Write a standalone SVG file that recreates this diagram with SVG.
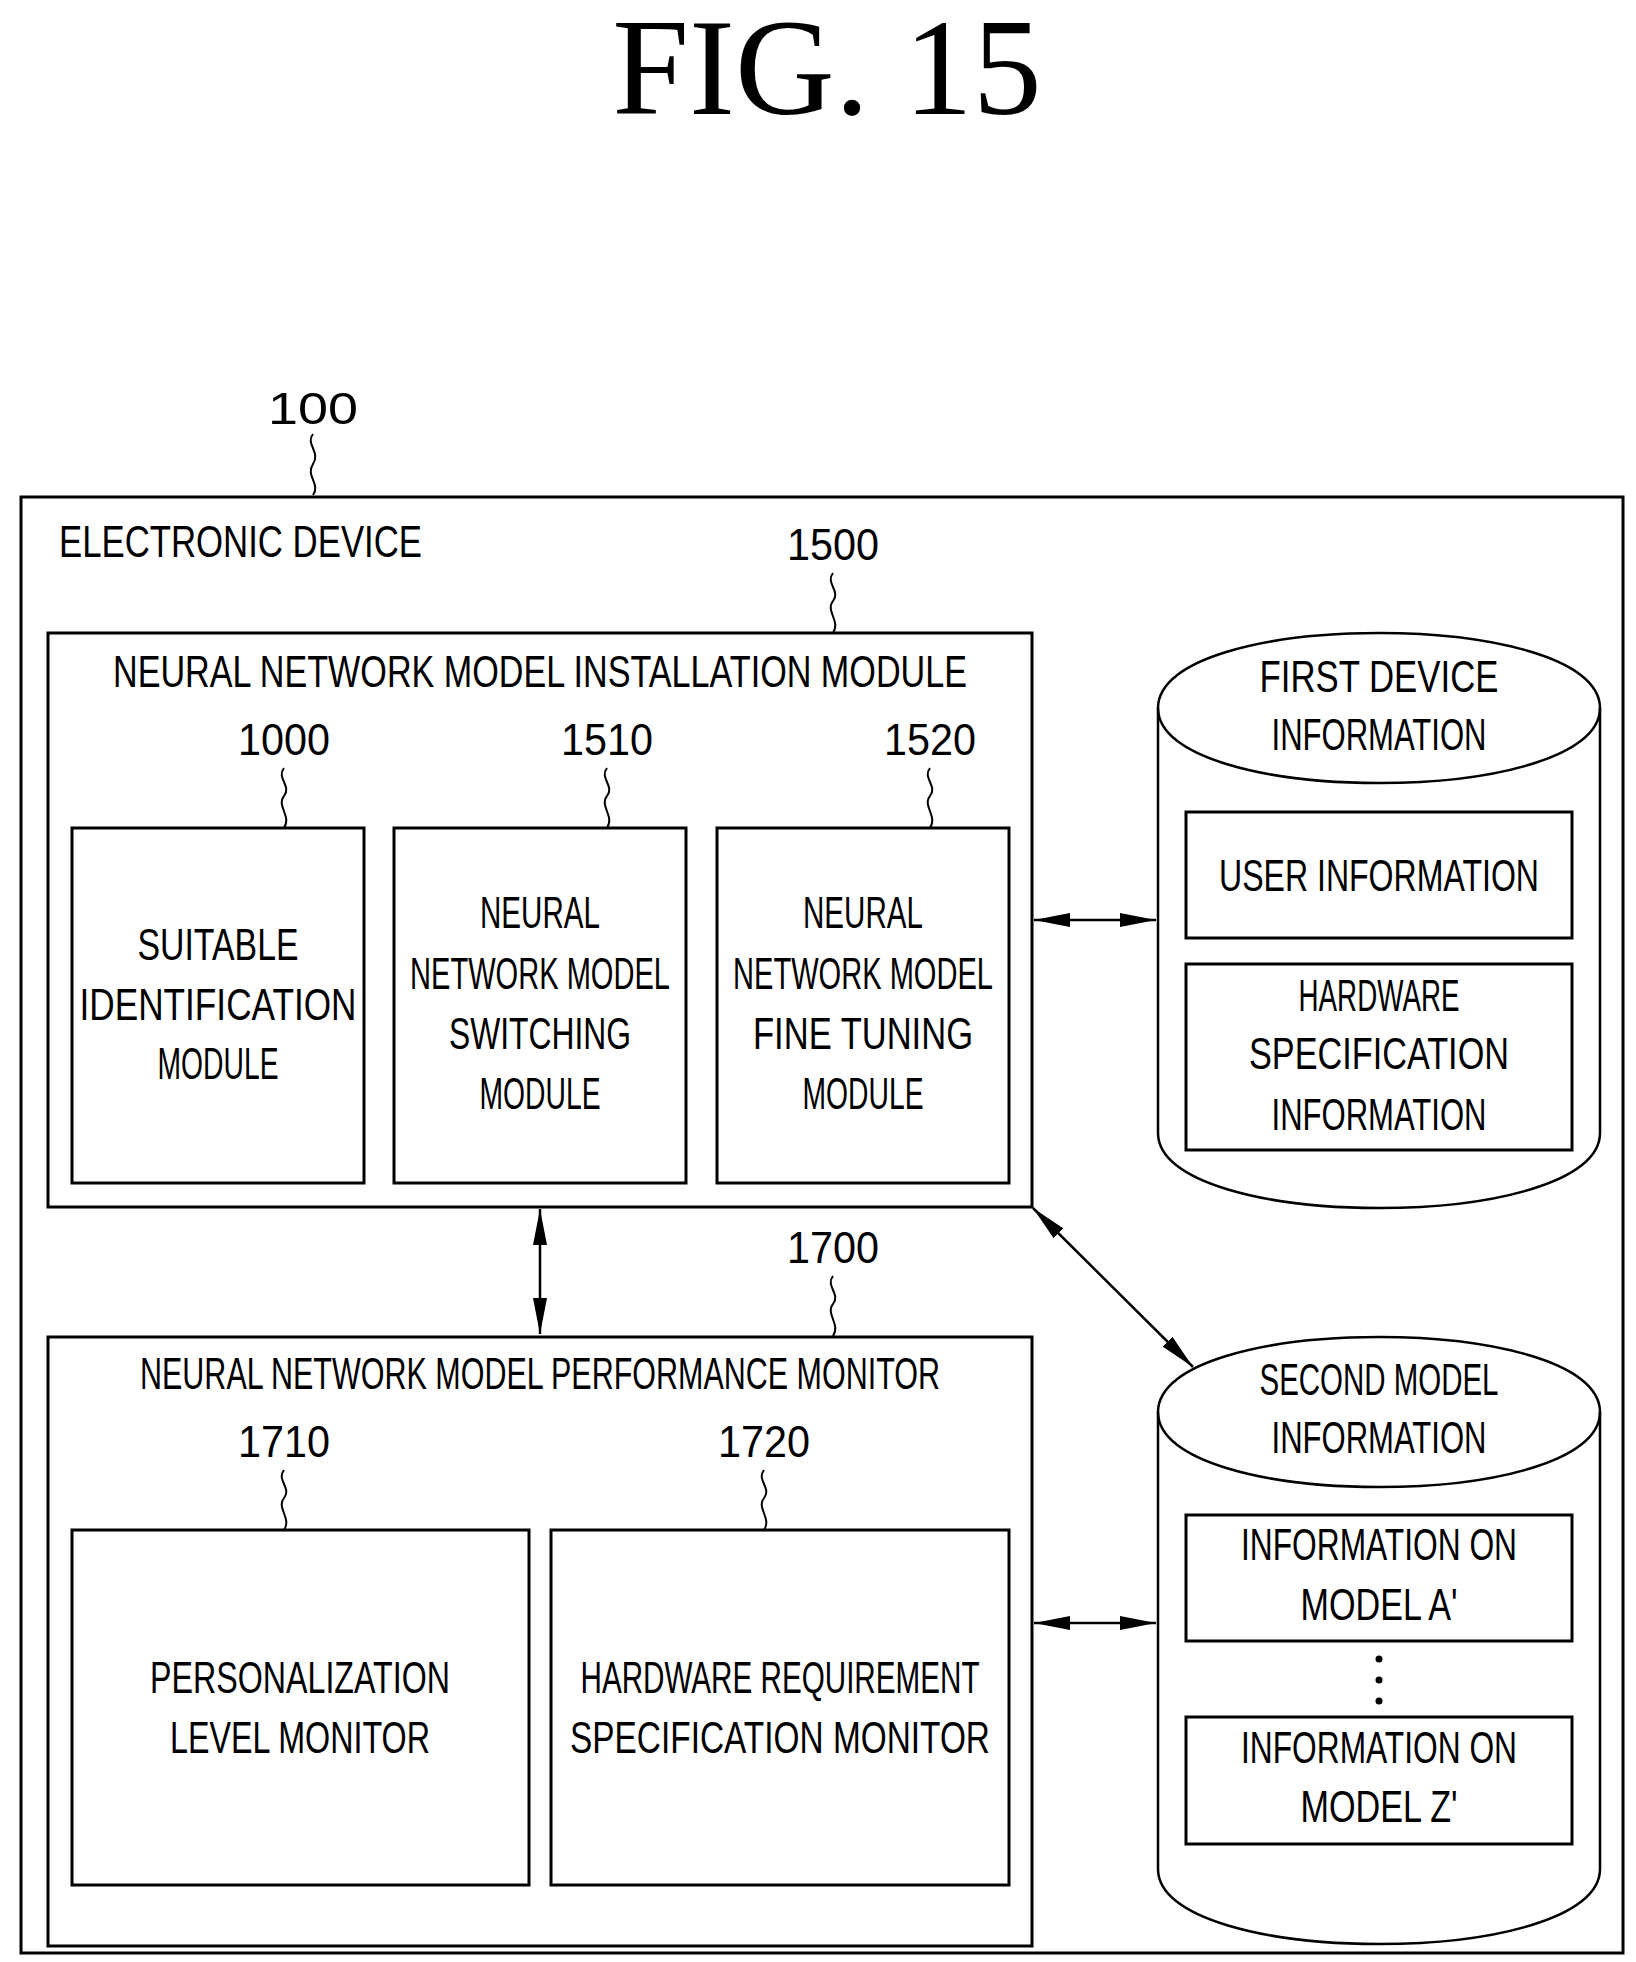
<svg xmlns="http://www.w3.org/2000/svg" width="1636" height="1962" viewBox="0 0 1636 1962">
<style>
.b{fill:none;stroke:#000;stroke-width:3}
.t{font-family:"Liberation Sans",Arial,sans-serif;font-size:44px;fill:#000;text-anchor:middle}
.l{font-family:"Liberation Sans",Arial,sans-serif;font-size:44px;fill:#000;text-anchor:middle}
.s{fill:none;stroke:#000;stroke-width:2}
.c{fill:none;stroke:#000;stroke-width:2.5}
</style>
<defs>
<marker id="ah" viewBox="0 0 36 20" refX="36" refY="10" markerWidth="36" markerHeight="20" markerUnits="userSpaceOnUse" orient="auto-start-reverse"><path d="M0,3 L36,10 L0,17 z" fill="#000"/></marker>
</defs>
<rect width="1636" height="1962" fill="#fff"/>
<text x="827" y="114" style="font-family:'Liberation Serif',serif;font-size:138px;text-anchor:middle">FIG. 15</text>

<g id="device">
<rect class="b" x="21" y="497" width="1602" height="1456"/>
<text class="l" x="313" y="424" textLength="90" lengthAdjust="spacingAndGlyphs">100</text>
<path class="s" d="M313,434 c-8,10 8,18 0,30 c-8,12 8,20 0,31"/>
<text class="t" x="59" y="557" style="text-anchor:start" textLength="363" lengthAdjust="spacingAndGlyphs">ELECTRONIC DEVICE</text>
</g>

<g id="n1500">
<rect class="b" x="48" y="633" width="984" height="574"/>
<text class="l" x="833" y="560" textLength="92" lengthAdjust="spacingAndGlyphs">1500</text>
<path class="s" d="M833,573 c-8,10 8,18 0,28 c-8,10 8,20 0,32"/>
<text class="t" x="540" y="687" textLength="854" lengthAdjust="spacingAndGlyphs">NEURAL NETWORK MODEL INSTALLATION MODULE</text>
</g>

<g id="n1000">
<rect class="b" x="72" y="828" width="292" height="355"/>
<text class="l" x="284" y="755" textLength="92" lengthAdjust="spacingAndGlyphs">1000</text>
<path class="s" d="M284,768 c-8,10 8,18 0,28 c-8,10 8,20 0,32"/>
<text class="t" x="218" y="960" textLength="161" lengthAdjust="spacingAndGlyphs">SUITABLE</text>
<text class="t" x="218" y="1020" textLength="277" lengthAdjust="spacingAndGlyphs">IDENTIFICATION</text>
<text class="t" x="218" y="1079" textLength="121" lengthAdjust="spacingAndGlyphs">MODULE</text>
</g>

<g id="n1510">
<rect class="b" x="394" y="828" width="292" height="355"/>
<text class="l" x="607" y="755" textLength="92" lengthAdjust="spacingAndGlyphs">1510</text>
<path class="s" d="M607,768 c-8,10 8,18 0,28 c-8,10 8,20 0,32"/>
<text class="t" x="540" y="928" textLength="120" lengthAdjust="spacingAndGlyphs">NEURAL</text>
<text class="t" x="540" y="989" textLength="260" lengthAdjust="spacingAndGlyphs">NETWORK MODEL</text>
<text class="t" x="540" y="1049" textLength="182" lengthAdjust="spacingAndGlyphs">SWITCHING</text>
<text class="t" x="540" y="1109" textLength="121" lengthAdjust="spacingAndGlyphs">MODULE</text>
</g>

<g id="n1520">
<rect class="b" x="717" y="828" width="292" height="355"/>
<text class="l" x="930" y="755" textLength="92" lengthAdjust="spacingAndGlyphs">1520</text>
<path class="s" d="M930,768 c-8,10 8,18 0,28 c-8,10 8,20 0,32"/>
<text class="t" x="863" y="928" textLength="120" lengthAdjust="spacingAndGlyphs">NEURAL</text>
<text class="t" x="863" y="989" textLength="260" lengthAdjust="spacingAndGlyphs">NETWORK MODEL</text>
<text class="t" x="863" y="1049" textLength="220" lengthAdjust="spacingAndGlyphs">FINE TUNING</text>
<text class="t" x="863" y="1109" textLength="121" lengthAdjust="spacingAndGlyphs">MODULE</text>
</g>

<g id="db1">
<path class="c" d="M1158,708 C1158,608 1600,608 1600,708 L1600,1133 C1600,1233 1158,1233 1158,1133 Z"/>
<path class="c" d="M1158,708 C1158,808 1600,808 1600,708"/>
<text class="t" x="1379" y="692" textLength="239" lengthAdjust="spacingAndGlyphs">FIRST DEVICE</text>
<text class="t" x="1379" y="750" textLength="215" lengthAdjust="spacingAndGlyphs">INFORMATION</text>
<rect class="b" x="1186" y="812" width="386" height="126"/>
<text class="t" x="1379" y="891" textLength="320" lengthAdjust="spacingAndGlyphs">USER INFORMATION</text>
<rect class="b" x="1186" y="964" width="386" height="186"/>
<text class="t" x="1379" y="1011" textLength="161" lengthAdjust="spacingAndGlyphs">HARDWARE</text>
<text class="t" x="1379" y="1069" textLength="260" lengthAdjust="spacingAndGlyphs">SPECIFICATION</text>
<text class="t" x="1379" y="1130" textLength="215" lengthAdjust="spacingAndGlyphs">INFORMATION</text>
</g>

<g id="n1700">
<rect class="b" x="48" y="1337" width="984" height="609"/>
<text class="l" x="833" y="1263" textLength="92" lengthAdjust="spacingAndGlyphs">1700</text>
<path class="s" d="M833,1276 c-8,10 8,18 0,28 c-8,10 8,20 0,32"/>
<text class="t" x="540" y="1389" textLength="800" lengthAdjust="spacingAndGlyphs">NEURAL NETWORK MODEL PERFORMANCE MONITOR</text>
</g>

<g id="n1710">
<rect class="b" x="72" y="1530" width="457" height="355"/>
<text class="l" x="284" y="1457" textLength="92" lengthAdjust="spacingAndGlyphs">1710</text>
<path class="s" d="M284,1470 c-8,10 8,18 0,28 c-8,10 8,20 0,32"/>
<text class="t" x="300" y="1693" textLength="300" lengthAdjust="spacingAndGlyphs">PERSONALIZATION</text>
<text class="t" x="300" y="1753" textLength="260" lengthAdjust="spacingAndGlyphs">LEVEL MONITOR</text>
</g>

<g id="n1720">
<rect class="b" x="551" y="1530" width="458" height="355"/>
<text class="l" x="764" y="1457" textLength="92" lengthAdjust="spacingAndGlyphs">1720</text>
<path class="s" d="M764,1470 c-8,10 8,18 0,28 c-8,10 8,20 0,32"/>
<text class="t" x="780" y="1693" textLength="399" lengthAdjust="spacingAndGlyphs">HARDWARE REQUIREMENT</text>
<text class="t" x="780" y="1753" textLength="420" lengthAdjust="spacingAndGlyphs">SPECIFICATION MONITOR</text>
</g>

<g id="db2">
<path class="c" d="M1158,1412 C1158,1312 1600,1312 1600,1412 L1600,1869 C1600,1969 1158,1969 1158,1869 Z"/>
<path class="c" d="M1158,1412 C1158,1512 1600,1512 1600,1412"/>
<text class="t" x="1379" y="1395" textLength="239" lengthAdjust="spacingAndGlyphs">SECOND MODEL</text>
<text class="t" x="1379" y="1453" textLength="215" lengthAdjust="spacingAndGlyphs">INFORMATION</text>
<rect class="b" x="1186" y="1515" width="386" height="126"/>
<text class="t" x="1379" y="1560" textLength="276" lengthAdjust="spacingAndGlyphs">INFORMATION ON</text>
<text class="t" x="1379" y="1620" textLength="157" lengthAdjust="spacingAndGlyphs">MODEL A'</text>
<circle cx="1379" cy="1659" r="3.5"/>
<circle cx="1379" cy="1680" r="3.5"/>
<circle cx="1379" cy="1701" r="3.5"/>
<rect class="b" x="1186" y="1717" width="386" height="127"/>
<text class="t" x="1379" y="1763" textLength="276" lengthAdjust="spacingAndGlyphs">INFORMATION ON</text>
<text class="t" x="1379" y="1822" textLength="157" lengthAdjust="spacingAndGlyphs">MODEL Z'</text>
</g>

<g id="connectors" stroke="#000" stroke-width="2.5" fill="none">
<line x1="1034" y1="920" x2="1156" y2="920" marker-start="url(#ah)" marker-end="url(#ah)"/>
<line x1="540" y1="1209" x2="540" y2="1334" marker-start="url(#ah)" marker-end="url(#ah)"/>
<line x1="1033" y1="1208" x2="1193" y2="1367" marker-start="url(#ah)" marker-end="url(#ah)"/>
<line x1="1034" y1="1623" x2="1156" y2="1623" marker-start="url(#ah)" marker-end="url(#ah)"/>
</g>
</svg>
